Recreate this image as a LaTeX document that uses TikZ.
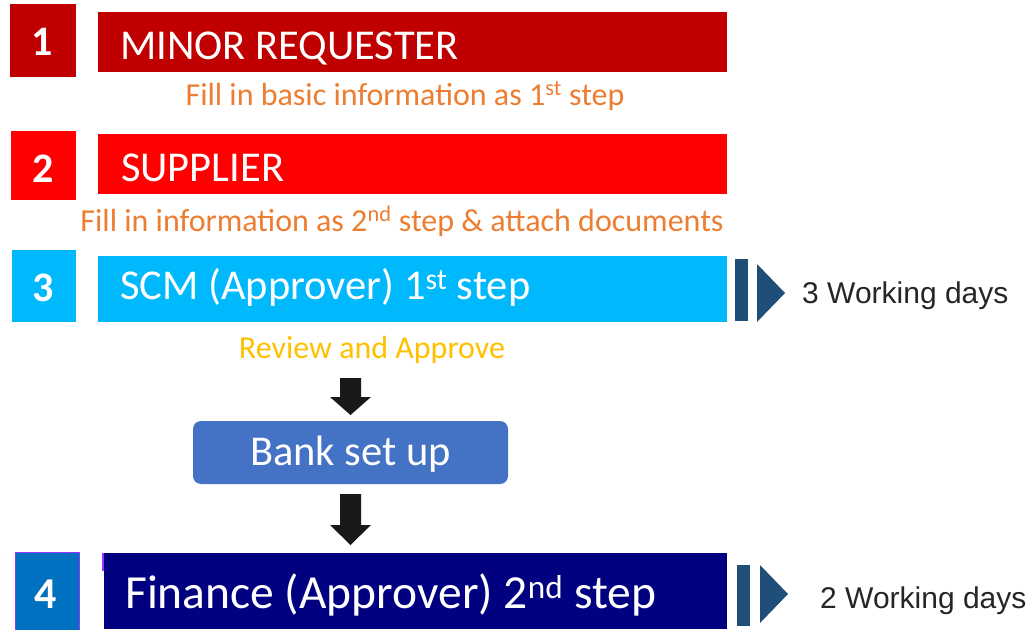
\documentclass[tikz,border=0pt]{standalone}
\usepackage{fontspec}
\setmainfont{Carlito}
\newfontfamily\wdfont{Liberation Sans}
\definecolor{cA}{HTML}{C00000}
\definecolor{cB}{HTML}{FF0000}
\definecolor{cC}{HTML}{00B9FD}
\definecolor{cD}{HTML}{000080}
\definecolor{cDn}{HTML}{0070C0}
\definecolor{cBank}{HTML}{4472C4}
\definecolor{cOr}{HTML}{ED7D31}
\definecolor{cYe}{HTML}{FFC000}
\definecolor{cMark}{HTML}{1F4E79}
\definecolor{cPur}{HTML}{9933FF}
\begin{document}
\begin{tikzpicture}[x=1pt,y=-1pt,
  numbox/.style={anchor=base,inner sep=0pt,font=\fontsize{42}{42}\selectfont\bfseries,text=white},
  bartext/.style={anchor=base west,inner sep=0pt,text=white,font=\fontsize{42.5}{42.5}\selectfont},
  sub/.style={anchor=base,inner sep=0pt,font=\fontsize{32}{32}\selectfont},
  days/.style={anchor=base west,inner sep=0pt,font=\wdfont\fontsize{30}{30}\selectfont,text=black!85},
  blk/.style={fill=black!90}]
\useasboundingbox (0,0) rectangle (1033,629);
% row 1
\fill[cA] (10,4) rectangle (76,77);
\node[numbox] (n1) at (42,55) {1};
\fill[cA] (98,12) rectangle (727,72);
\node[bartext] (t1) at (120,59) {MINOR REQUESTER};
\node[sub,text=cOr] (s1) at (405,105) {Fill in basic information as 1\textsuperscript{st} step};
% row 2
\fill[cB] (11,131) rectangle (76,200);
\node[numbox] (n2) at (43,182) {2};
\fill[cB] (98,134) rectangle (727,194);
\node[bartext] (t2) at (121,181) {SUPPLIER};
\node[sub,text=cOr] (s2) at (402,231) {Fill in information as 2\textsuperscript{nd} step \& attach documents};
% row 3
\fill[cC] (12,250) rectangle (76,322);
\node[numbox] (n3) at (43.5,301) {3};
\fill[cC] (98,256) rectangle (727,322);
\node[bartext] (t3) at (120,299) {SCM (Approver) 1\textsuperscript{st} step};
\node[sub,text=cYe] (s3) at (372,358) {Review and Approve};
\fill[cMark] (735,259) rectangle (748,321);
\fill[cMark] (757,264) -- (785,293) -- (757,322) -- cycle;
\node[days] (d3) at (802,303) {3 Working days};
% arrow 1
\fill[blk] (340,378) -- (361,378) -- (361,397) -- (371,397) -- (350.5,415) -- (330,397) -- (340,397) -- cycle;
% bank
\fill[cBank,rounded corners=8pt] (193,421) rectangle (508,484);
\node[anchor=base,inner sep=0pt,text=white,font=\fontsize{42.5}{42.5}\selectfont] (bank) at (350.5,465) {Bank set up};
% arrow 2
\fill[blk] (340,494) -- (361,494) -- (361,525) -- (371,525) -- (350.5,545) -- (330,525) -- (340,525) -- cycle;
% row 4
\fill[cDn,draw=cPur,line width=1pt] (15,552) rectangle (79,632);
\node[numbox,font=\fontsize{44}{44}\selectfont\bfseries] (n4) at (46,608) {4};
\fill[cPur] (102,553) rectangle (106,571);
\fill[cD] (104,553) rectangle (727,629);
\node[bartext,font=\fontsize{47.5}{47.5}\selectfont] (t4) at (125,608) {Finance (Approver) 2\textsuperscript{nd} step};
\fill[cMark] (737,565) rectangle (750,626);
\fill[cMark] (760,565) -- (788,594) -- (760,623) -- cycle;
\node[days] (d4) at (820,608) {2 Working days};
\end{tikzpicture}
\end{document}
